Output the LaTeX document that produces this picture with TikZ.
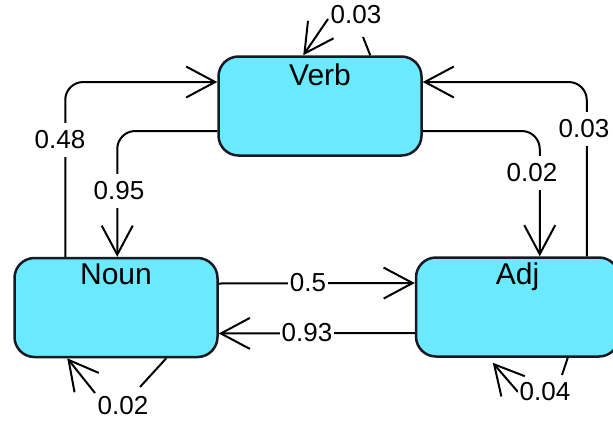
\documentclass[tikz,border=0pt]{standalone}
\usepackage{fontspec}
\setmainfont{Liberation Sans}
\usetikzlibrary{arrows.meta,calc}
\definecolor{boxfill}{RGB}{106,233,255}
\definecolor{boxline}{RGB}{25,25,35}
\begin{document}
\begin{tikzpicture}[x=1pt,y=-1pt,
  state/.style={draw=boxline, fill=boxfill, line width=2.5pt, rounded corners=20pt, minimum width=203pt, minimum height=99pt, inner sep=0pt},
  nm/.style={font=\fontsize{30}{36}\selectfont, inner sep=0pt, anchor=base},
  conn/.style={line width=2pt, draw=black},
  arr/.style={conn, -{Straight Barb[length=29pt,width=31pt]}},
  lbl/.style={font=\fontsize{26}{31}\selectfont, fill=white, inner xsep=2pt, inner ysep=8pt}
]
\useasboundingbox (0,0) rectangle (613,421);
\node[state] (Verb) at (320,106) {};
\node[state] (Noun) at (116,307.5) {};
\node[state] (Adj) at (517.5,307) {};
\node[nm] (VerbT) at ($(Verb.north)+(0,30)$) {Verb};
\node[nm] (NounT) at ($(Noun.north)+(0,28)$) {Noun};
\node[nm] (AdjT) at ($(Adj.north)+(0,28)$) {Adj};
% connectors between states
\draw[arr, rounded corners=18pt] ($(Noun.north west)+(52,0)$) |- ($(Verb.west)+(0,-24)$);
\draw[arr, rounded corners=18pt] ($(Verb.west)+(0,25)$) -| ($(Noun.north west)+(104,0)$);
\draw[arr, rounded corners=18pt] ($(Verb.east)+(0,25)$) -| ($(Adj.north west)+(125,0)$);
\draw[arr, rounded corners=18pt] ($(Adj.north west)+(172,0)$) |- ($(Verb.east)+(0,-24)$);
\draw[arr] ($(Noun.east)+(0,-24)$) -- ($(Adj.west)+(0,-24)$);
\draw[arr] ($(Adj.west)+(0,26)$) -- ($(Noun.east)+(0,26)$);
% self loops
\coordinate (vA) at (363,37);
\coordinate (vB) at (328,19);
\draw[conn] ($(Verb.north west)+(153,0)$) -- (vA);
\draw[arr] (vB) -- ($(Verb.north west)+(86,0)$);
\coordinate (nA) at (140,387);
\coordinate (nB) at (95,393);
\draw[conn] ($(Noun.south west)+(153,0)$) -- (nA);
\draw[arr] (nB) -- ($(Noun.south west)+(54,0)$);
\coordinate (aA) at (562,375);
\coordinate (aB) at (518,392);
\draw[conn] ($(Adj.south west)+(153,0)$) -- (aA);
\draw[arr] (aB) -- ($(Adj.south west)+(78,5)$);
% labels
\node[lbl] (l048) at (60,140) {0.48};
\node[lbl] (l095) at (119,191) {0.95};
\node[lbl] (l002) at (532,173) {0.02};
\node[lbl] (l003) at (584,129) {0.03};
\node[lbl] (l05) at (308,283) {0.5};
\node[lbl] (l093) at (307,333) {0.93};
\node[lbl, inner ysep=2pt] (lv) at (356,15) {0.03};
\node[lbl, inner ysep=2pt] (ln) at (123,406) {0.02};
\node[lbl, inner ysep=2pt] (la) at (545,392) {0.04};
\end{tikzpicture}
\end{document}
